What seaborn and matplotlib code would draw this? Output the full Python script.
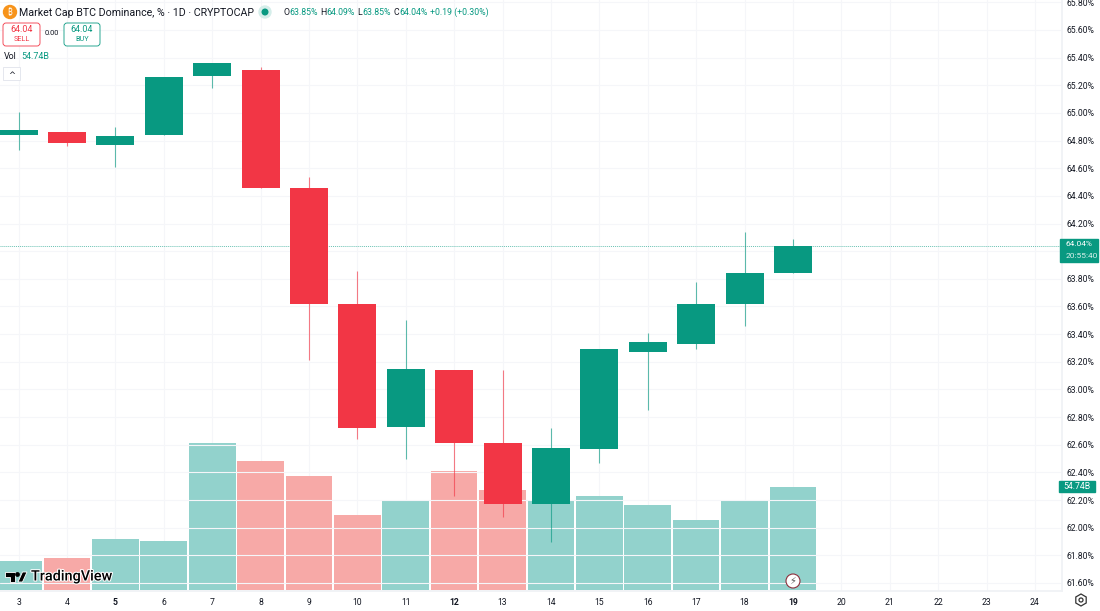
import matplotlib.pyplot as plt
import matplotlib.patches as mpatches
import matplotlib.patheffects as pe
from matplotlib.transforms import IdentityTransform
import pandas as pd
import seaborn as sns

sns.set_theme(style="white")
plt.rcParams["font.family"] = ["Roboto", "DejaVu Sans"]

GREEN = "#089981"
RED = "#f23645"
VOL_GREEN = "#92d2cc"
VOL_RED = "#f7a9a7"
GRID = "#f5f6f9"
TEXT = "#131722"

# values
days = [3, 4, 5, 6, 7, 8, 9, 10, 11, 12, 13, 14, 15, 16, 17, 18, 19]
opens = [64.84, 64.86, 64.77, 64.84, 65.27, 65.31, 64.46, 63.62, 62.73, 63.14, 62.61, 62.17, 62.57, 63.27, 63.33, 63.62, 63.84]
closes = [64.88, 64.78, 64.83, 65.26, 65.36, 64.46, 63.62, 62.72, 63.15, 62.61, 62.17, 62.58, 63.29, 63.34, 63.62, 63.84, 64.04]
highs = [65.01, 64.86, 64.90, 65.26, 65.36, 65.33, 64.54, 63.86, 63.50, 63.14, 63.14, 62.72, 63.29, 63.41, 63.78, 64.14, 64.09]
lows = [64.73, 64.76, 64.61, 64.84, 65.18, 64.46, 63.21, 62.64, 62.50, 62.23, 62.08, 61.90, 62.47, 62.85, 63.29, 63.46, 63.84]
volumes = [15.4, 17.0, 27.1, 26.0, 78.1, 68.6, 60.6, 39.9, 47.8, 63.2, 53.2, 47.3, 50.0, 45.2, 37.2, 47.3, 54.74]

day_ticks = list(range(3, 25))
bold_days = [5, 12, 19]
price_ticks = [61.6 + 0.2 * i for i in range(22)]

last_price = 64.04
last_volume = 54.74

df = pd.DataFrame({"day": days, "open": opens, "close": closes, "high": highs, "low": lows, "volume": volumes})
df["up"] = df["close"] >= df["open"]

W, H = 1100, 611
fig = plt.figure(figsize=(11, 6.11), dpi=100)
px = IdentityTransform()


def txt(x, y, s, **kw):
    # x, y in picture pixels from the top-left corner
    kw.setdefault("va", "center")
    return fig.text(x, H - y, s, transform=px, **kw)


def shape(p):
    p.set_transform(px)
    fig.add_artist(p)


rect = [0, 1 - 591 / H, 1062 / W, 591 / H]
ax_vol = fig.add_axes(rect)
ax = fig.add_axes(rect, sharex=ax_vol)
ax.patch.set_alpha(0)

# volume bars behind the candles
sns.barplot(data=df, x="day", y="volume", hue="up", palette={True: VOL_GREEN, False: VOL_RED},
            native_scale=True, width=0.965, legend=False, ax=ax_vol, saturation=1, linewidth=0, dodge=False, zorder=2)
ax_vol.set_ylim(-0.5, 313.5)
ax_vol.set_xlim(2.616, 24.56)
ax_vol.set_xlabel("")
ax_vol.set_ylabel("")
ax_vol.set_yticks([])
ax_vol.set_xticks(day_ticks)
ax_vol.set_xticklabels([str(d) for d in day_ticks])
ax_vol.tick_params(axis="x", length=0, pad=5, labelsize=6.2, labelcolor=TEXT)
for lab, d in zip(ax_vol.get_xticklabels(), day_ticks):
    lab.set_fontweight("bold" if d in bold_days else "normal")
ax_vol.grid(True, axis="x", color=GRID, lw=0.8, zorder=0)
ax_vol.set_axisbelow(True)
for s in ax_vol.spines.values():
    s.set_visible(False)

# candles
ax.set_ylim(61.542, 65.817)
colors = [GREEN if u else RED for u in df["up"]]
ax.vlines(df["day"], df["low"], df["high"], colors=colors, lw=0.8, alpha=0.65, zorder=3)
ax.bar(df["day"], (df["close"] - df["open"]).abs(), bottom=df[["open", "close"]].min(axis=1),
       width=0.785, color=colors, linewidth=0, zorder=4)

ax.set_yticks(price_ticks)
ax.yaxis.tick_right()
ax.set_yticklabels([f"{p:.2f}%" for p in price_ticks])
ax.tick_params(axis="y", length=0, pad=3, labelsize=6.2, labelcolor=TEXT)
ax.tick_params(axis="x", length=0, labelbottom=False)
ax.grid(True, axis="y", color=GRID, lw=0.8, zorder=0)
ax.set_axisbelow(True)
for s in ax.spines.values():
    s.set_visible(False)
ax.spines["right"].set_visible(True)
ax.spines["right"].set_color("#f0f2f5")
ax.spines["bottom"].set_visible(True)
ax.spines["bottom"].set_color("#f0f2f5")

# last price line
ax.axhline(last_price, color=GREEN, lw=0.7, ls=(0, (1, 1)), alpha=0.6, zorder=2)

# tags on the scale
shape(mpatches.Rectangle((1060, H - 262), 38, 23, color=GREEN, zorder=6))
txt(1066, 244.5, f"{last_price:.2f}%", color="white", fontsize=6, zorder=7)
txt(1066, 255.5, "20:55:40", color="#d8f0ec", fontsize=6, zorder=7)
shape(mpatches.Rectangle((1059, H - 492), 36, 11, color=GREEN, zorder=6))
txt(1077, 486.5, f"{last_volume:.2f}B", color="white", fontsize=6.2, ha="center", zorder=7)

# header
shape(mpatches.Circle((10, H - 12), 6.5, color="#f7931a", zorder=6))
txt(10, 12, "₿", color="white", fontsize=6, ha="center", family=["Noto Sans", "Inter", "Lato", "DejaVu Sans"], zorder=7)
txt(19, 12.5, "Market Cap BTC Dominance, % · 1D · CRYPTOCAP", color=TEXT, fontsize=7.7)
shape(mpatches.Circle((265, H - 12), 6, color="#d5eeea", zorder=6))
shape(mpatches.Circle((265, H - 12), 2.8, color=GREEN, zorder=7))

for x, label, val in [(283, "O", "63.85%"), (320, "H", "64.09%"), (357, "L", "63.85%"), (393, "C", "64.04%")]:
    txt(x, 12.5, label, color=TEXT, fontsize=6.3)
    txt(x + (5 if label == "L" else 6), 12.5, val, color=GREEN, fontsize=6.3)
txt(430, 12.5, "+0.19 (+0.30%)", color=GREEN, fontsize=6.3)

for bx, bw, col, top, bot in [(3, 37, RED, "64.04", "SELL"), (64, 36, GREEN, "64.04", "BUY")]:
    shape(mpatches.FancyBboxPatch((bx, H - 46), bw, 23, boxstyle="round,pad=0,rounding_size=3",
                                  fc="white", ec=col, lw=0.6, zorder=6))
    txt(bx + bw / 2, 30, top, color=col, fontsize=6.4, ha="center", zorder=7)
    txt(bx + bw / 2, 39.5, bot, color=col, fontsize=5.2, ha="center", zorder=7)
txt(51.5, 33.5, "0.00", color=TEXT, fontsize=5.4, ha="center")
txt(4, 56.5, "Vol", color=TEXT, fontsize=6.4)
txt(21, 56.5, f"{last_volume:.2f}B", color=GREEN, fontsize=6.4)
shape(mpatches.Rectangle((3, H - 80), 17, 13, fc="white", ec="#e0e3eb", lw=0.6, zorder=6))
txt(11.5, 75, "^", color=TEXT, fontsize=6, ha="center", family="DejaVu Sans", zorder=7)

# logo, bolt badge, settings gear
halo = [pe.withStroke(linewidth=1.5, foreground="white")]
for poly in ([(5, 572), (15, 572), (15, 582), (10, 582), (10, 576.5), (5, 576.5)],
             [(18, 582), (22.5, 572), (27, 572), (22.5, 582)]):
    shape(mpatches.Polygon([(a, H - b) for a, b in poly], fc="black", ec="white", lw=0.6, zorder=7))
shape(mpatches.Circle((17.5, H - 574.5), 2.4, fc="black", ec="none", zorder=7))
t = txt(31, 576.5, "TradingView", color="black", fontsize=10.4, fontweight="medium", zorder=7)
t.set_path_effects(halo)
shape(mpatches.Circle((793, H - 581), 7, fc="white", ec="#8d2f3c", lw=0.8, zorder=6))
txt(793, 581, "⚡", color="#555555", fontsize=7, ha="center", family="DejaVu Sans", zorder=7)
shape(mpatches.RegularPolygon((1081, H - 600), 6, radius=6, fc="white", ec="#333333", lw=0.9, zorder=6))
shape(mpatches.Circle((1081, H - 600), 2, fc="white", ec="#333333", lw=0.9, zorder=7))

fig.savefig("out.png", dpi=100)
